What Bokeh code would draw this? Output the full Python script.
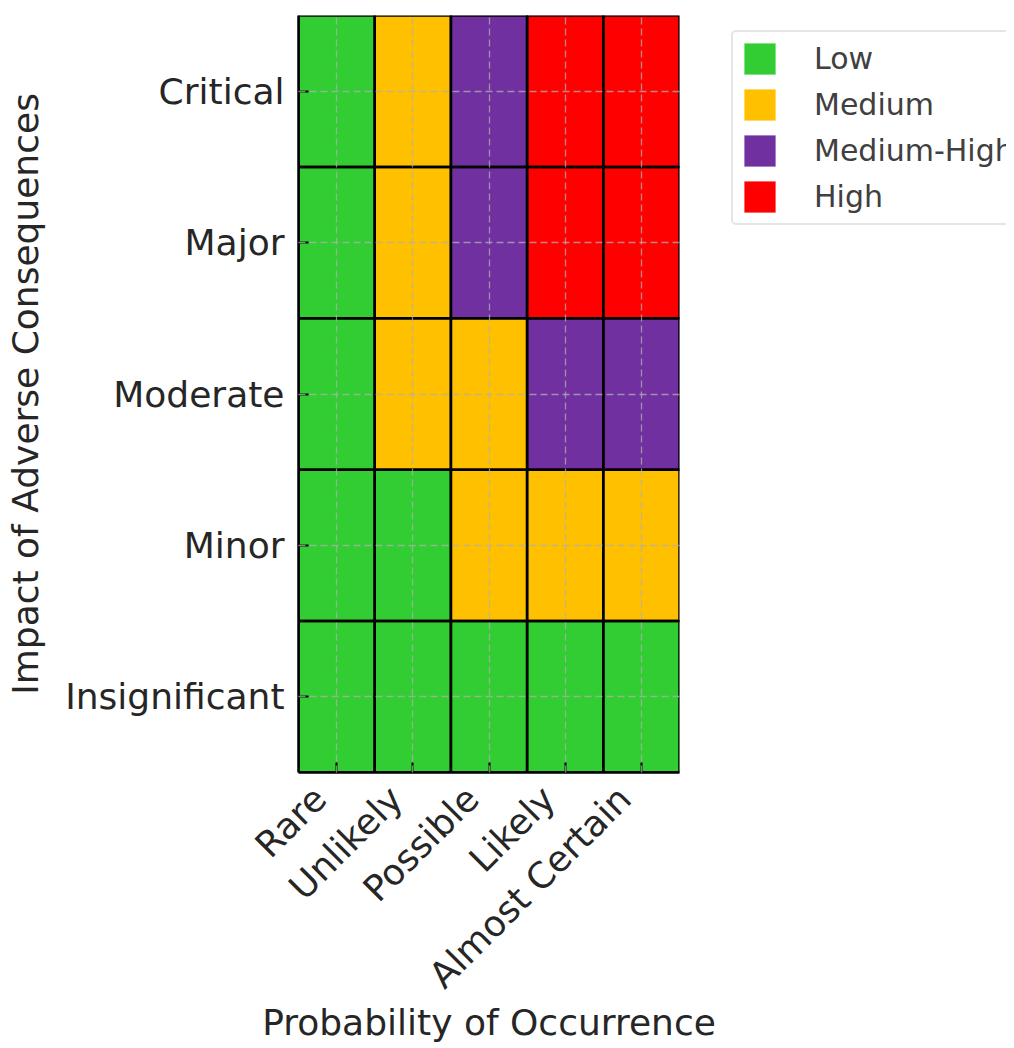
import math
from bokeh.plotting import figure
from bokeh.layouts import row
from bokeh.models import (ColumnDataSource, Legend, LegendItem, FactorRange, Range1d,
                          LinearAxis, FixedTicker, CustomJSTickFormatter)
from bokeh.embed import file_html
from bokeh.resources import INLINE

# ---- data ----
probability = ["Rare", "Unlikely", "Possible", "Likely", "Almost Certain"]
impact = ["Insignificant", "Minor", "Moderate", "Major", "Critical"]  # bottom -> top
risk_levels = ["Low", "Medium", "Medium-High", "High"]
risk_colors = ["#32CD32", "#FFC000", "#7030A0", "#FF0000"]
# one row per impact level (bottom -> top), one entry per probability
risk_matrix = [
    ["Low", "Low", "Low", "Low", "Low"],                                # Insignificant
    ["Low", "Low", "Medium", "Medium", "Medium"],                       # Minor
    ["Low", "Medium", "Medium", "Medium-High", "Medium-High"],          # Moderate
    ["Low", "Medium", "Medium-High", "High", "High"],                   # Major
    ["Low", "Medium", "Medium-High", "High", "High"],                   # Critical
]

H = 1046
W1 = 716
W2 = 1006 - W1
FL, FR, FT, FB = 298, 679, 15, 773
NX = len(probability)
centers = [i + 0.5 for i in range(NX)]

p = figure(width=W1, height=H,
           x_range=Range1d(0, NX),
           y_range=FactorRange(*impact, range_padding=0),
           output_backend="svg", toolbar_location=None,
           min_border_left=FL, min_border_right=W1 - FR,
           min_border_top=FT, min_border_bottom=H - FB)
p.outline_line_color = None
p.background_fill_color = "white"
p.border_fill_color = "white"

for lvl, col in zip(risk_levels, risk_colors):
    xs, ys = [], []
    for imp, rw in zip(impact, risk_matrix):
        for j, r in enumerate(rw):
            if r == lvl:
                xs.append(centers[j])
                ys.append(imp)
    src = ColumnDataSource(dict(x=xs, y=ys))
    p.rect(x="x", y="y", width=1, height=1, source=src,
           fill_color=col, line_color=None)

# cell borders
bx, by = [], []
for imp in impact:
    for j in range(NX):
        bx.append(centers[j])
        by.append(imp)
p.rect(x=bx, y=by, width=1, height=1, fill_color=None,
       line_color="black", line_width=2.5)

# grid on top
p.grid.level = "overlay"
p.grid.grid_line_color = "#b0b0b0"
p.grid.grid_line_alpha = 0.75
p.grid.grid_line_width = 1.3
p.grid.grid_line_dash = "7 4"

TXT = "#262626"
p.xaxis.ticker = FixedTicker(ticks=centers)
for ax in (p.xaxis, p.yaxis):
    ax.axis_line_color = "black"
    ax.axis_line_width = 2.5
    ax.major_tick_in = 10
    ax.major_tick_out = 0
    ax.minor_tick_line_color = None
    ax.major_tick_line_width = 2
    ax.major_tick_line_color = "black"
    ax.major_label_text_font = "DejaVu Sans"
    ax.major_label_text_font_size = "36px"
    ax.major_label_text_color = TXT
    ax.axis_label_text_font = "DejaVu Sans"
    ax.axis_label_text_font_size = "36px"
    ax.axis_label_text_font_style = "normal"
    ax.axis_label_text_color = TXT

p.yaxis.axis_label = "Impact of Adverse Consequences"
p.yaxis.major_label_standoff = 14
p.yaxis.axis_label_standoff = 16

# main x axis: axis line and ticks only (labels come from the axis below)
p.xaxis.formatter = CustomJSTickFormatter(code="return ''")
p.xaxis.major_label_text_font_size = "1px"
p.xaxis.major_label_standoff = 0

# label axis (matplotlib-style right-aligned rotated labels)
shift = 0.22
p.extra_x_ranges = {"lbl": Range1d(shift, NX + shift)}
lab_ax = LinearAxis(x_range_name="lbl",
                    ticker=FixedTicker(ticks=centers),
                    formatter=CustomJSTickFormatter(args=dict(names=probability),
                                                    code="return names[Math.floor(tick)]"))
lab_ax.axis_line_color = None
lab_ax.major_tick_line_color = None
lab_ax.minor_tick_line_color = None
lab_ax.major_label_orientation = math.pi / 4
lab_ax.major_label_standoff = 14
lab_ax.major_label_text_font = "DejaVu Sans"
lab_ax.major_label_text_font_size = "36px"
lab_ax.major_label_text_color = TXT
lab_ax.axis_label = "Probability of Occurrence"
lab_ax.axis_label_text_font = "DejaVu Sans"
lab_ax.axis_label_text_font_size = "36px"
lab_ax.axis_label_text_font_style = "normal"
lab_ax.axis_label_text_color = TXT
lab_ax.axis_label_standoff = -11
p.add_layout(lab_ax, "below")

# ---- legend figure ----
p2 = figure(width=W2, height=H, x_range=Range1d(0, 1), y_range=Range1d(0, 1),
            x_axis_type=None, y_axis_type=None,
            output_backend="svg", toolbar_location=None,
            min_border_left=0, min_border_right=0, min_border_top=FT,
            min_border_bottom=H - FB)
p2.outline_line_color = None
p2.grid.visible = False
p2.background_fill_color = "white"
p2.border_fill_color = "white"

# proxy renderers for the legend (one point each, outside the visible range)
leg_renderers = []
for lvl, col in zip(risk_levels, risk_colors):
    leg_renderers.append(p2.rect(x=[-10], y=[-10], width=1, height=1,
                                 fill_color=col, line_color=None))

pad, gh, sp = 7, 39, 7
legend = Legend(items=[LegendItem(label=l, renderers=[r]) for l, r in zip(risk_levels, leg_renderers)],
                location="top_left")
legend.margin = 15
legend.label_text_font = "DejaVu Sans"
legend.label_text_font_size = "30px"
legend.label_text_color = "#404040"
legend.glyph_width = gh
legend.glyph_height = gh
legend.spacing = sp
legend.padding = pad
legend.label_standoff = 35
legend.border_line_color = "#cccccc"
legend.border_line_width = 2
legend.border_radius = 5
legend.background_fill_color = "white"
legend.background_fill_alpha = 1
p2.add_layout(legend, "center")

layout = row(p, p2)
open("out.html", "w").write(file_html(layout, INLINE))
